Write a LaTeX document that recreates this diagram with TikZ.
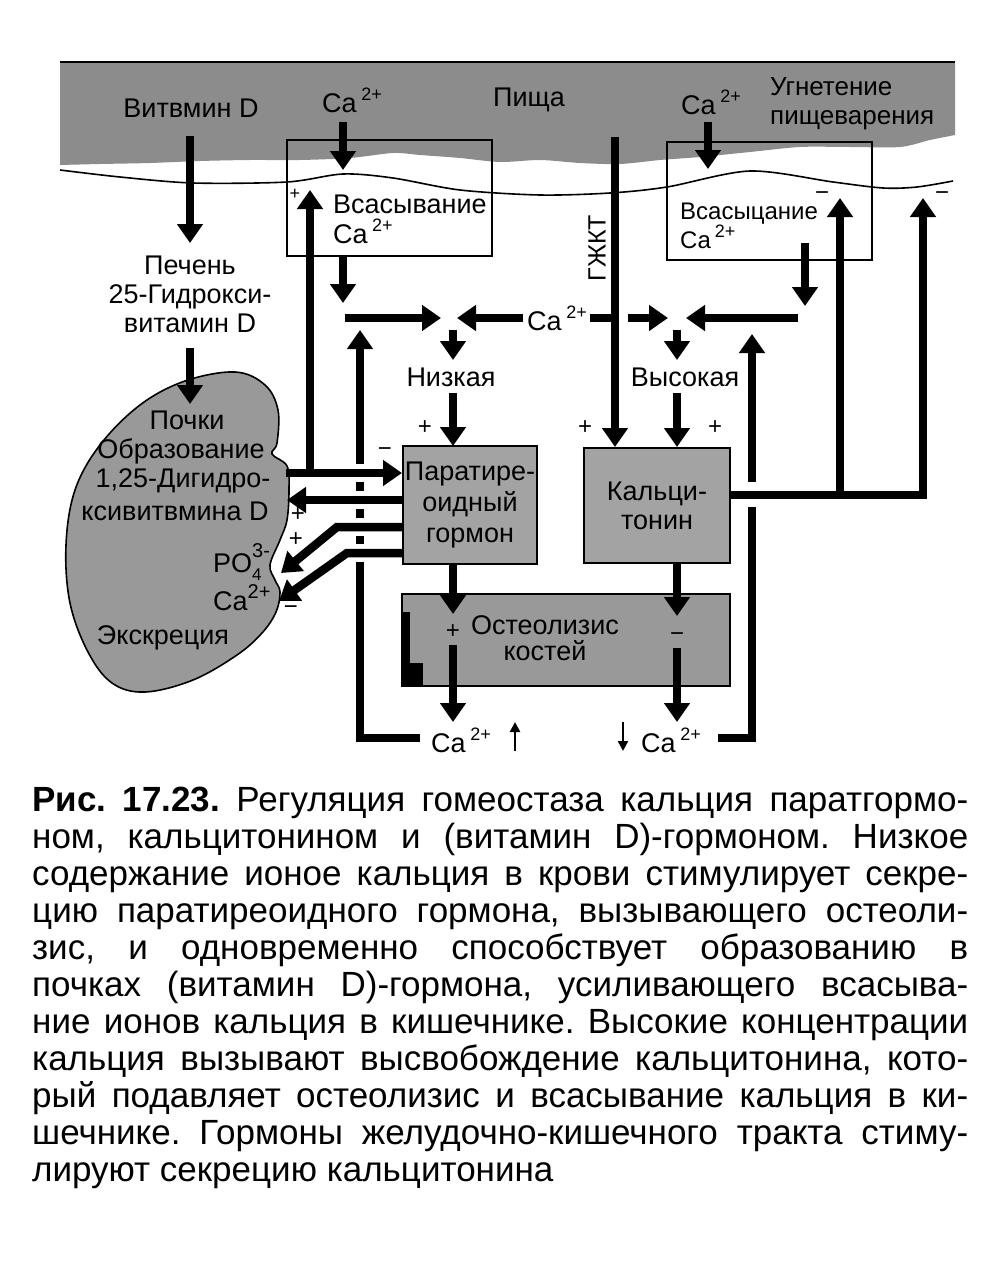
\documentclass[tikz,border=0pt]{standalone}
\usepackage{fontspec}
\setmainfont{Liberation Sans}
\usetikzlibrary{arrows.meta}
\definecolor{bandgray}{gray}{0.55}
\definecolor{kidgray}{gray}{0.60}
\definecolor{boxgray}{gray}{0.64}
\definecolor{ostgray}{gray}{0.60}
\newcommand\dlab{\fontsize{27}{30}\selectfont}
\newcommand\smlab{\fontsize{24}{28}\selectfont}
\newcommand\Caii{Ca\,\raisebox{.45em}{\fontsize{18}{18}\selectfont 2+}}
\newcommand\capl[1]{\hbox to 936pt{#1}}
\frenchspacing
\begin{document}
\begin{tikzpicture}[x=1pt,y=-1pt,
  lab/.style={font=\dlab, inner sep=0pt, align=center},
  slab/.style={font=\smlab, inner sep=0pt, align=left},
  sgn/.style={font=\fontsize{24}{24}\selectfont, inner sep=0pt},
  shaft/.style={line width=8.5pt},
  ar/.style={line width=8.5pt, -{Triangle[length=19pt,width=25pt]}},
  thinar/.style={line width=2.4pt, -{Triangle[length=10pt,width=10pt]}},
  gbox/.style={draw, line width=2pt, fill=boxgray, inner sep=0pt},
  abox/.style={draw, line width=1.8pt, inner sep=0pt}]
\useasboundingbox[fill=white] (0,0) rectangle (1000,1279);

% ---- intestine band ----
\fill[bandgray] (60,62) -- (955,62) -- plot[smooth] coordinates {(955,135) (930,140) (900,147) (850,147) (800,147) (750,152) (700,157) (660,160) (620,164) (580,163) (540,160) (500,162) (460,158) (420,155) (393,153) (350,158) (300,160) (250,160) (200,161) (150,163) (100,164) (60,165)} -- cycle;
\draw[line width=1.6pt] (60,62) -- (955,62);
\draw[line width=1.6pt] plot[smooth] coordinates {(60,170) (120,177) (193,183) (287,182) (343,174) (393,178) (460,190) (540,195) (610,193) (667,187) (750,171) (833,182) (883,188) (917,187) (953,181)};

% ---- absorption boxes ----
\node[abox, minimum width=205pt, minimum height=116pt] (absL) at (389.5,198) {};
\node[abox, minimum width=205pt, minimum height=118pt] (absR) at (769.5,201) {};

% ---- kidney ----
\fill[kidgray, draw=black, line width=1.6pt] plot[smooth cycle, tension=0.6] coordinates {(235,372) (265,385) (278,410) (277,443) (272,454) (287,466) (289,490) (287,520) (280,540) (270,565) (275,580) (280,592) (276,612) (262,633) (237,655) (193,680) (145,692) (112,683) (88,652) (70,603) (66,545) (75,490) (100,445) (140,405) (185,381)};

% ---- hormone boxes ----
\node[gbox, minimum width=134pt, minimum height=118pt, font=\fontsize{27}{31}\selectfont, align=center] (pth) at (470,505) {Паратире-\\оидный\\гормон};
\node[gbox, minimum width=146pt, minimum height=115pt, font=\fontsize{27}{29}\selectfont, align=center] (calc) at (657,505.5) {Кальци-\\тонин};
\node[gbox, fill=ostgray, minimum width=328pt, minimum height=92pt] (ost) at (566,640) {};
\fill[black] (401,612) rectangle (410,686);
\fill[black] (401,663) rectangle (423,686);
\node[lab, font=\fontsize{27}{26}\selectfont] (osttxt) at (545,638) {Остеолизис\\костей};

% ---- top labels ----
\node[lab] (vitd) at (191,108) {Витвмин D};
\node[lab] (caL) at (352,100) {\Caii};
\node[lab] (food) at (529,100) {Пища};
\node[lab] (caR) at (711,102) {\Caii};
\node[lab, align=left, anchor=west, font=\fontsize{26}{29}\selectfont] (inhib) at (770,104) {Угнетение\\пищеварения};
\node[lab, align=left, anchor=west] (absLt) at (333,219) {Всасывание\\\Caii};
\node[slab, anchor=west] (absRt) at (680,226) {Всасыцание\\\Caii};

% ---- liver ----
\node[lab, font=\fontsize{27}{29}\selectfont] (liver) at (190,294) {Печень\\25-Гидрокси-\\витамин D};

% ---- kidney labels ----
\node[lab] (k1) at (187,420) {Почки};
\node[lab] (k2) at (181,451) {Образование};
\node[lab] (k3) at (183,481) {1,25-Дигидро-};
\node[lab] (k4) at (175,511) {ксивитвмина D};
\node[lab, anchor=west] (po4) at (213,562) {PO\rlap{\raisebox{-.3em}{\fontsize{17}{17}\selectfont 4}}\raisebox{.55em}{\fontsize{20}{20}\selectfont 3-}};
\node[lab, anchor=west] (kca) at (213,598) {Ca\raisebox{.45em}{\fontsize{20}{20}\selectfont 2+}};
\node[lab] (excr) at (163,638) {Экскреция};

% ---- arrows: vitamin D path ----
\coordinate (vd1) at (190,136); \coordinate (vd2) at (190,243);
\coordinate (lv1) at (190,348); \coordinate (lv2) at (190,404);
\draw[ar] (vd1) -- (vd2);
\draw[ar] (lv1) -- (lv2);

% ---- Ca into absorption boxes ----
\draw[ar] (343,122) -- (343,170);
\draw[ar] (708,122) -- (708,169);
\draw[ar] (343,256) -- (343,303);
\draw[ar] (805,243) -- (805,306);

% ---- Ca level arrows ----
\draw[ar] (345,318) -- (441,318);
\draw[ar] (523,318) -- (457,318);
\node[lab] (camid) at (557,318) {\Caii};
\draw[shaft] (590,318) -- (612,318);
\draw[ar] (628,318) -- (668,318);
\draw[ar] (798,318) -- (686,318);
\draw[ar] (453,330) -- (453,360);
\draw[ar] (677,330) -- (677,360);
\node[lab] (low) at (451,377) {Низкая};
\node[lab] (high) at (685,377) {Высокая};
\draw[ar] (453,393) -- (453,446);
\draw[ar] (677,393) -- (677,447);

% ---- GI tract ----
\draw[ar] (615,137) -- (615,447);
\node[lab, rotate=90, font=\fontsize{25}{25}\selectfont] (gkt) at (597,248) {ГЖКТ};

% ---- kidney <-> PTH ----
\draw[ar] (286,473) -- (402,473);
\draw[ar] (310,473) -- (310,190);
\draw[ar] (403,500) -- (287,500);
\draw[ar] (403,527) -- (337,527) -- (281,573);
\draw[ar] (403,553) -- (347,553) -- (279,601);
\draw[ar] (360,464) -- (360,330);
\draw[shaft] (360,482) -- (360,491);
\draw[shaft] (360,509) -- (360,518);
\draw[shaft] (360,536) -- (360,544);
\draw[shaft] (360,562) -- (360,738) -- (420,738);

% ---- osteolysis ----
\draw[ar] (453,564) -- (453,614);
\draw[ar] (453,645) -- (453,722);
\draw[ar] (677,563) -- (677,616);
\draw[ar] (677,648) -- (677,722);
\node[lab] (caB1) at (461,740) {\Caii};
\node[lab] (caB2) at (671,740) {\Caii};
\draw[thinar] (515,751) -- (515,722);
\draw[thinar] (623,722) -- (623,751);

% ---- calcitonin outputs ----
\draw[shaft] (718,738) -- (752,738) -- (752,507);
\draw[ar] (752,482) -- (752,334);
\draw[shaft] (730,495) -- (923,495);
\draw[ar] (840,499) -- (840,198);
\draw[ar] (923,499) -- (923,198);

% ---- signs ----
\node[sgn, font=\fontsize{18}{18}\selectfont] (s1) at (295,194) {+};
\node[sgn] (s2) at (385,452) {−};
\node[sgn] (s3) at (298,515) {+};
\node[sgn] (s4) at (296,540) {+};
\node[sgn] (s5) at (291,606) {=};
\node[sgn] (s6) at (425,428) {+};
\node[sgn] (s7) at (585,428) {+};
\node[sgn] (s8) at (715,428) {+};
\node[sgn] (s9) at (453,632) {+};
\node[sgn] (s10) at (677,637) {−};
\node[sgn] (s11) at (822,196) {−};
\node[sgn] (s12) at (942,196) {−};

% ---- caption ----
\node[anchor=base west, inner sep=0pt, font=\fontsize{35}{37}\selectfont] (cap) at (32,811) {\vtop{%
\capl{{\bfseries Рис. 17.23.} Регуляция гомеостаза кальция паратгормо-}
\capl{ном, кальцитонином и (витамин D)-гормоном. Низкое}
\capl{содержание ионое кальция в крови стимулирует секре-}
\capl{цию паратиреоидного гормона, вызывающего остеоли-}
\capl{зис, и одновременно способствует образованию в}
\capl{почках (витамин D)-гормона, усиливающего всасыва-}
\capl{ние ионов кальция в кишечнике. Высокие концентрации}
\capl{кальция вызывают высвобождение кальцитонина, кото-}
\capl{рый подавляет остеолизис и всасывание кальция в ки-}
\capl{шечнике. Гормоны желудочно-кишечного тракта стиму-}
\hbox{лируют секрецию кальцитонина}}};
\end{tikzpicture}
\end{document}
